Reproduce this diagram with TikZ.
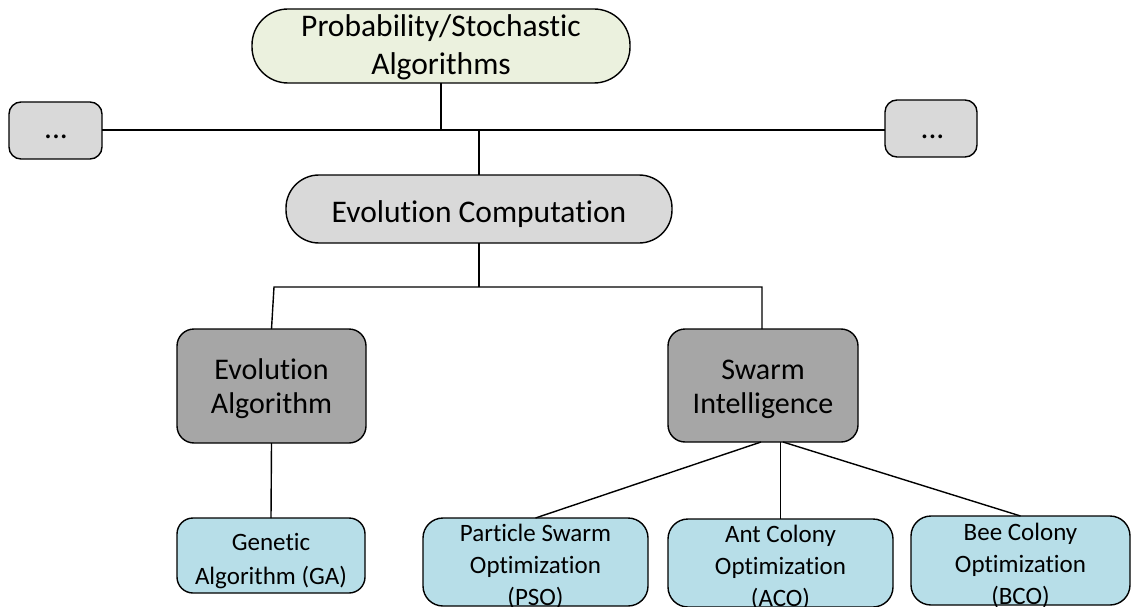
\documentclass[tikz,border=0pt]{standalone}
\usepackage{fontspec}
\setmainfont{Carlito}[Ligatures=NoCommon]
\definecolor{topgreen}{RGB}{235,241,222}
\definecolor{lgray}{RGB}{217,217,217}
\definecolor{dgray}{RGB}{166,166,166}
\definecolor{lblue}{RGB}{183,222,232}
\begin{document}
\begin{tikzpicture}[x=1pt,y=-1pt,
  boxbase/.style={draw=black, line width=1.4pt, rectangle, inner sep=0pt, outer sep=0pt},
  pill/.style={boxbase, rounded corners=33pt},
  conn/.style={draw=black, line width=1.4pt},
  tbig/.style={font=\fontsize{31.5}{38}\selectfont, align=center, inner sep=0pt, anchor=base},
  tmid/.style={font=\fontsize{30}{34}\selectfont, align=center, inner sep=0pt, anchor=base},
  tsml/.style={font=\fontsize{25}{32}\selectfont, align=center, inner sep=0pt, anchor=base},
  tga/.style={font=\fontsize{25}{34}\selectfont, align=center, inner sep=0pt, anchor=base}
]
\useasboundingbox (0,0) rectangle (1132,607);
\fill[white] (0,0) rectangle (1132,607);

% boxes
\node[boxbase, rounded corners=36pt, fill=topgreen, minimum width=378pt, minimum height=74pt] (top) at (441,46) {};
\node[boxbase, rounded corners=12pt, fill=lgray, minimum width=93pt, minimum height=57pt] (ldots) at (55.5,130.5) {};
\node[boxbase, rounded corners=12pt, fill=lgray, minimum width=92pt, minimum height=57pt] (rdots) at (931,128.5) {};
\node[pill, fill=lgray, minimum width=386pt, minimum height=68pt] (ec) at (479,209) {};
\node[boxbase, rounded corners=17pt, fill=dgray, minimum width=189pt, minimum height=114pt] (ea) at (271.5,386) {};
\node[boxbase, rounded corners=17pt, fill=dgray, minimum width=190pt, minimum height=113pt] (si) at (763,385.5) {};
\node[boxbase, rounded corners=16pt, fill=lblue, minimum width=188pt, minimum height=75pt] (ga) at (271,555.5) {};
\node[boxbase, rounded corners=20pt, fill=lblue, minimum width=225pt, minimum height=88pt] (pso) at (535.5,562) {};
\node[boxbase, rounded corners=20pt, fill=lblue, minimum width=225pt, minimum height=88pt] (aco) at (780.5,563) {};
\node[boxbase, rounded corners=20pt, fill=lblue, minimum width=219pt, minimum height=89pt] (bco) at (1020.5,560.5) {};

% texts (base anchor = baseline of the last line)
\node[tbig] (topt) at (441,75) {Probability/Stochastic\\Algorithms};
\node[tbig] (ldotst) at (56,139) {...};
\node[tbig] (rdotst) at (932.5,139) {...};
\node[tbig] (ect) at (479,222) {Evolution Computation};
\node[tmid] (eat) at (271.5,413) {Evolution\\Algorithm};
\node[tmid] (sit) at (763,413) {Swarm\\Intelligence};
\node[tga] (gat) at (271,584) {Genetic\\Algorithm (GA)};
\node[tsml] (psot) at (535.5,605) {Particle Swarm\\Optimization\\(PSO)};
\node[tsml] (acot) at (780.5,606) {Ant Colony\\Optimization\\(ACO)};
\node[tsml] (bcot) at (1020.5,604) {Bee Colony\\Optimization\\(BCO)};

% junctions
\coordinate (j1) at (441,130);
\coordinate (hl) at (274,287);
\coordinate (hr) at (762,287);

% connectors
\draw[conn] (top.south) -- (j1);
\draw[conn] (ldots.east |- j1) -- (rdots.west |- j1);
\draw[conn] (ec.north |- j1) -- (ec.north);
\draw[conn] (ec.south) -- (ec.south |- hl);
\draw[conn] (ea.north) -- (hl) -- (hr) -- (si.north -| hr);
\draw[conn] (ea.south) -- (ga.north);
\draw[conn] ([xshift=-2pt]si.south) -- (pso.north);
\draw[conn] (aco.north |- si.south) -- (aco.north);
\draw[conn] ([xshift=20pt]si.south) -- (bco.north);
\end{tikzpicture}
\end{document}
